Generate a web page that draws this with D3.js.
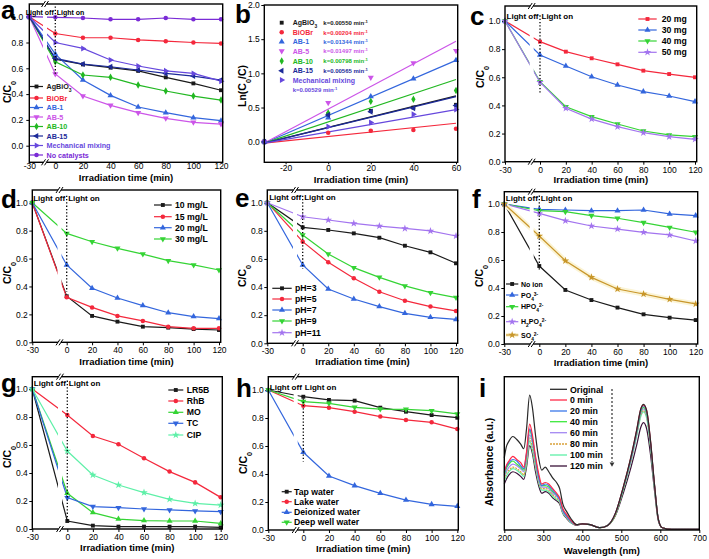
<!DOCTYPE html>
<html>
<head>
<meta charset="utf-8">
<script src="https://cdn.jsdelivr.net/npm/d3@7"></script>
<style>
  body { margin: 0; background: #fff; }
  svg { font-family: "Liberation Sans", Arial, sans-serif; }
</style>
</head>
<body>
<svg id="fig" width="709" height="559"></svg>
<script>
// ---------- data ----------
const times = [-30, 0, 20, 40, 60, 80, 100, 120];
const timeTicks = [-30, 0, 20, 40, 60, 80, 100, 120];
const ratioTicks = [0, 0.2, 0.4, 0.6, 0.8, 1.0];

// a: catalysts
const aNames = ['AgBiO_3', 'BiOBr', 'AB-1', 'AB-5', 'AB-10', 'AB-15', 'Mechanical mixing', 'No catalysts'];
const aAgBiO3 = [1.0, 0.67, 0.63, 0.605, 0.58, 0.53, 0.483, 0.43];
const aBiOBr = [1.0, 0.87, 0.837, 0.837, 0.82, 0.81, 0.80, 0.793];
const aAB1 = [1.0, 0.71, 0.51, 0.39, 0.30, 0.256, 0.217, 0.194];
const aAB5 = [1.0, 0.556, 0.385, 0.313, 0.256, 0.212, 0.181, 0.168];
const aAB10 = [1.0, 0.651, 0.548, 0.53, 0.47, 0.424, 0.385, 0.354];
const aAB15 = [1.0, 0.677, 0.633, 0.612, 0.587, 0.56, 0.54, 0.509];
const aMech = [1.0, 0.80, 0.754, 0.664, 0.618, 0.58, 0.56, 0.50];
const aNone = [1.0, 0.995, 0.99, 0.98, 0.98, 0.99, 0.98, 0.98];

// b: kinetics
const bTimes = [-30, 0, 20, 40, 60];
const bFitTimes = [-30, 60];
const bAgBiO3 = [0, 0.40, 0.45, 0.50, 0.54];
const bBiOBr = [0, 0.13, 0.16, 0.17, 0.19];
const bAB1 = [0, 0.35, 0.66, 0.92, 1.19];
const bAB5 = [0, 0.57, 0.94, 1.15, 1.33];
const bAB10 = [0, 0.42, 0.59, 0.62, 0.75];
const bAB15 = [0, 0.39, 0.44, 0.49, 0.53];
const bMech = [0, 0.22, 0.28, 0.40, 0.47];
const bFitAgBiO3 = [-0.02, 0.67];
const bFitBiOBr = [-0.02, 0.27];
const bFitAB1 = [-0.02, 1.19];
const bFitAB5 = [-0.02, 1.47];
const bFitAB10 = [-0.02, 0.91];
const bFitAB15 = [-0.02, 0.66];
const bFitMech = [-0.02, 0.47];
const bK = ['0.00550', '0.00204', '0.01344', '0.01497', '0.00798', '0.00565', '0.00529'];

// c: catalyst dosage
const cNames = ['20 mg', '30 mg', '40 mg', '50 mg'];
const c20 = [1.0, 0.853, 0.782, 0.735, 0.692, 0.647, 0.623, 0.60];
const c30 = [1.0, 0.758, 0.68, 0.604, 0.545, 0.498, 0.467, 0.427];
const c40 = [1.0, 0.569, 0.391, 0.32, 0.268, 0.218, 0.19, 0.178];
const c50 = [1.0, 0.565, 0.38, 0.303, 0.249, 0.206, 0.178, 0.159];

// d: initial concentration
const dNames = ['10 mg/L', '15 mg/L', '20 mg/L', '30 mg/L'];
const d10 = [1.0, 0.33, 0.189, 0.148, 0.112, 0.105, 0.095, 0.088];
const d15 = [1.0, 0.322, 0.25, 0.189, 0.153, 0.112, 0.10, 0.10];
const d20 = [1.0, 0.554, 0.387, 0.317, 0.263, 0.212, 0.184, 0.17];
const d30 = [1.0, 0.78, 0.72, 0.673, 0.632, 0.585, 0.554, 0.518];

// e: pH
const eNames = ['pH=3', 'pH=5', 'pH=7', 'pH=9', 'pH=11'];
const ePH3 = [1.0, 0.825, 0.806, 0.782, 0.751, 0.694, 0.647, 0.569];
const ePH5 = [1.0, 0.723, 0.576, 0.462, 0.367, 0.303, 0.261, 0.23];
const ePH7 = [1.0, 0.557, 0.386, 0.315, 0.261, 0.213, 0.185, 0.17];
const ePH9 = [1.0, 0.77, 0.635, 0.538, 0.469, 0.408, 0.36, 0.325];
const ePH11 = [1.0, 0.90, 0.877, 0.853, 0.834, 0.817, 0.799, 0.763];

// f: coexisting ions
const fNames = ['No ion', 'PO_4^3-', 'HPO_4^2-', 'H_2PO_4^2-', 'SO_4^2-'];
const fNoIon = [1.0, 0.557, 0.386, 0.314, 0.26, 0.212, 0.188, 0.171];
const fPO4 = [1.0, 0.962, 0.957, 0.952, 0.952, 0.957, 0.929, 0.917];
const fHPO4 = [1.0, 0.952, 0.945, 0.917, 0.898, 0.867, 0.833, 0.798];
const fH2PO4 = [1.0, 0.933, 0.881, 0.843, 0.821, 0.798, 0.779, 0.736];
const fSO4 = [1.0, 0.771, 0.595, 0.476, 0.393, 0.357, 0.319, 0.286];

// g: pollutants
const gNames = ['LR5B', 'RhB', 'MO', 'TC', 'CIP'];
const gLR5B = [1.0, 0.057, 0.024, 0.017, 0.017, 0.017, 0.017, 0.012];
const gRhB = [1.0, 0.814, 0.664, 0.605, 0.505, 0.41, 0.333, 0.226];
const gMO = [1.0, 0.255, 0.117, 0.071, 0.06, 0.057, 0.057, 0.04];
const gTC = [1.0, 0.224, 0.16, 0.152, 0.143, 0.136, 0.129, 0.124];
const gCIP = [1.0, 0.557, 0.386, 0.314, 0.26, 0.212, 0.183, 0.171];

// h: water matrices
const hNames = ['Tap water', 'Lake water', 'Deionized water', 'Deep well water'];
const hTap = [1.0, 0.952, 0.929, 0.924, 0.874, 0.845, 0.821, 0.802];
const hLake = [1.0, 0.888, 0.874, 0.845, 0.81, 0.786, 0.769, 0.721];
const hDI = [1.0, 0.555, 0.386, 0.317, 0.262, 0.214, 0.183, 0.169];
const hDeep = [1.0, 0.917, 0.905, 0.876, 0.864, 0.862, 0.852, 0.829];

// i: UV-vis spectra
const iNames = ['Original', '0 min', '20 min', '40 min', '60 min', '80 min', '100 min', '120 min'];
const wavelengths = [200,205,212,222,232,242,250,257,265,272,280,288,296,305,314,324,334,342,350,360,372,385,400,420,445,465,485,505,525,540,550,557,565,575,585,595,605,630,700];
const iOriginal = [0.47,0.54,0.58,0.61,0.59,0.56,0.53,0.66,0.88,0.80,0.62,0.47,0.39,0.41,0.38,0.34,0.31,0.27,0.17,0.12,0.07,0.035,0.04,0.035,0.015,0.03,0.11,0.28,0.48,0.66,0.79,0.82,0.78,0.58,0.30,0.07,0.015,0.005,0.005];
const i0 = [0.38,0.42,0.45,0.48,0.46,0.44,0.41,0.51,0.69,0.62,0.48,0.37,0.30,0.31,0.30,0.27,0.24,0.21,0.14,0.10,0.06,0.035,0.04,0.035,0.015,0.03,0.11,0.28,0.48,0.66,0.79,0.815,0.78,0.58,0.30,0.07,0.015,0.005,0.005];
const i20 = [0.37,0.41,0.44,0.46,0.45,0.42,0.40,0.50,0.66,0.60,0.47,0.35,0.29,0.30,0.29,0.26,0.23,0.20,0.13,0.09,0.055,0.035,0.04,0.035,0.015,0.03,0.11,0.275,0.47,0.65,0.78,0.81,0.77,0.57,0.295,0.07,0.015,0.005,0.005];
const i40 = [0.36,0.40,0.43,0.45,0.43,0.41,0.39,0.49,0.65,0.59,0.46,0.35,0.29,0.29,0.28,0.25,0.23,0.20,0.13,0.09,0.055,0.035,0.04,0.035,0.015,0.03,0.105,0.27,0.47,0.64,0.77,0.80,0.76,0.565,0.29,0.07,0.015,0.005,0.005];
const i60 = [0.35,0.38,0.41,0.43,0.42,0.40,0.38,0.47,0.62,0.57,0.44,0.33,0.28,0.28,0.27,0.24,0.22,0.19,0.12,0.085,0.05,0.035,0.04,0.035,0.015,0.03,0.105,0.27,0.46,0.63,0.76,0.79,0.75,0.56,0.29,0.07,0.015,0.005,0.005];
const i80 = [0.33,0.37,0.39,0.41,0.40,0.38,0.36,0.45,0.60,0.54,0.42,0.32,0.27,0.27,0.26,0.23,0.21,0.18,0.12,0.08,0.05,0.035,0.04,0.035,0.015,0.03,0.10,0.265,0.455,0.63,0.75,0.78,0.74,0.55,0.285,0.065,0.015,0.005,0.005];
const i100 = [0.32,0.35,0.38,0.40,0.39,0.37,0.35,0.43,0.58,0.52,0.41,0.31,0.26,0.26,0.25,0.22,0.20,0.18,0.11,0.08,0.045,0.035,0.04,0.035,0.015,0.03,0.10,0.26,0.45,0.62,0.74,0.77,0.73,0.54,0.28,0.065,0.015,0.005,0.005];
const i120 = [0.30,0.33,0.36,0.38,0.37,0.35,0.33,0.41,0.55,0.50,0.38,0.29,0.24,0.25,0.24,0.21,0.19,0.17,0.11,0.075,0.045,0.03,0.04,0.035,0.015,0.03,0.095,0.24,0.41,0.56,0.67,0.70,0.66,0.49,0.26,0.06,0.015,0.005,0.005];
const wlTicks = [200, 300, 400, 500, 600, 700];

// ---------- helpers ----------
const svg = d3.select('#fig');
const C = {
  black: '#1a1a1a', red: '#f4283c', blue: '#3366dd', green: '#35d435', violet: '#a374ef',
  magenta: '#cc55e8', green2: '#22b822', navy: '#1c2a99', mech: '#6648dd', purple: '#7a2bd6',
  gold: '#c8962a', aqua: '#5ef0a8', orange: '#d9a13a', dark: '#3a1238'
};

const symPaths = {
  square: d3.symbol(d3.symbolSquare, 15)(),
  circle: d3.symbol(d3.symbolCircle, 16)(),
  up: d3.symbol(d3.symbolTriangle, 16)(),
  down: d3.symbol(d3.symbolTriangle, 16)(),
  left: d3.symbol(d3.symbolTriangle, 16)(),
  right: d3.symbol(d3.symbolTriangle, 16)(),
  diamond: d3.symbol(d3.symbolDiamond, 16)(),
  star: d3.symbol(d3.symbolStar, 18)(),
  star5: d3.symbol(d3.symbolStar, 18)()
};
const symRot = {down: 180, left: -90, right: 90};

function marker(g, type, cx, cy, color) {
  g.append('path')
    .attr('d', symPaths[type])
    .attr('transform', `translate(${cx},${cy}) rotate(${symRot[type] || 0})`)
    .attr('fill', color);
}

// text with _sub and ^super pieces
function rich(sel, str) {
  str.split(/(_\d+|\^[\d+\-]+)/).filter(s => s.length).forEach(s => {
    const t = sel.append('tspan');
    if (s[0] === '_') t.attr('baseline-shift', 'sub').style('font-size', '0.7em').text(s.slice(1));
    else if (s[0] === '^') t.attr('baseline-shift', 'super').style('font-size', '0.7em').text(s.slice(1));
    else t.text(s);
  });
  return sel;
}

function styleAxis(ax, fs) {
  ax.select('.domain').remove();
  ax.attr('font-family', null).attr('font-size', null);
  ax.selectAll('text').attr('font-size', fs).attr('fill', '#000');
  ax.selectAll('line').attr('stroke', '#000').attr('stroke-width', 1);
}

function panelLetter(x, y, letter) {
  svg.append('text').attr('x', x).attr('y', y)
    .attr('font-size', 26).attr('font-weight', 'bold').text(letter);
}

function yTitle(x, y, str) {
  rich(svg.append('text')
    .attr('transform', `translate(${x},${y}) rotate(-90)`)
    .attr('text-anchor', 'middle')
    .attr('font-size', 10.5).attr('font-weight', 'bold'), str);
}

function xTitle(x, y, str) {
  svg.append('text').attr('x', x).attr('y', y)
    .attr('text-anchor', 'middle').attr('font-size', 9.5).attr('font-weight', 'bold').text(str);
}

// ---------- time-course panels (a, c-h) ----------
function timePanel(p) {
  const x = d3.scaleLinear().domain([-30, 0, 120]).range([p.xm30, p.x0, p.x120]);
  const y = d3.scaleLinear().domain([0, 1]).range([p.y0, p.y1]);
  const g = svg.append('g');

  const xa = g.append('g').attr('transform', `translate(0,${p.bottom})`)
    .call(d3.axisBottom(x).tickValues(timeTicks).tickSize(p.tickLen).tickPadding(p.tickPad).tickFormat(d => String(d)));
  styleAxis(xa, 8.5);
  const ya = g.append('g').attr('transform', `translate(${p.xm30},0)`)
    .call(d3.axisLeft(y).tickValues(ratioTicks).tickSize(3).tickPadding(p.yPad || 1.5).tickFormat(d3.format('.1f')));
  styleAxis(ya, 8.5);

  const line = d3.line().x((d, i) => x(times[i])).y(d => y(d));
  p.series.forEach(s => {
    if (s.glow) {
      g.append('path').attr('d', line(s.values)).attr('fill', 'none')
        .attr('stroke', '#fbf4d6').attr('stroke-width', 5).attr('stroke-linejoin', 'round');
    }
    g.append('path').attr('d', line(s.values)).attr('fill', 'none')
      .attr('stroke', s.color).attr('stroke-width', 1.2);
  });

  // axis break gap through the curves
  g.append('rect').attr('x', p.brk - 2).attr('y', p.top + 1)
    .attr('width', 4).attr('height', p.bottom - p.top - 2).attr('fill', '#fff');

  p.series.forEach(s => {
    s.values.forEach((v, i) => marker(g, s.sym, x(times[i]), y(v), s.color));
  });

  g.append('rect').attr('x', p.xm30).attr('y', p.top)
    .attr('width', p.right - p.xm30).attr('height', p.bottom - p.top)
    .attr('fill', 'none').attr('stroke', '#000').attr('stroke-width', 1.4);

  // break marks on top and bottom frame
  [p.top, p.bottom].forEach(yy => {
    g.append('rect').attr('x', p.brk - 1.5).attr('y', yy - 1).attr('width', 3).attr('height', 2).attr('fill', '#fff');
    [-1.5, 1.5].forEach(dx => {
      g.append('line')
        .attr('x1', p.brk + dx - 2).attr('y1', yy + 3)
        .attr('x2', p.brk + dx + 2).attr('y2', yy - 3)
        .attr('stroke', '#000').attr('stroke-width', 1);
    });
  });

  // light off / on marker
  g.append('line').attr('x1', x(0)).attr('x2', x(0))
    .attr('y1', y(p.dot[0])).attr('y2', y(p.dot[1]))
    .attr('stroke', '#000').attr('stroke-width', 1.3).attr('stroke-dasharray', '1.3,2');
  g.append('text').attr('x', x(0) - 1.5).attr('y', p.lightY).attr('text-anchor', 'end')
    .attr('font-size', p.lightFs).attr('font-weight', 'bold').text('Light off');
  g.append('text').attr('x', x(0) + 1.5).attr('y', p.lightY)
    .attr('font-size', p.lightFs).attr('font-weight', 'bold').text('Light on');

  // legend
  const L = p.legend;
  p.series.forEach((s, i) => {
    const ly = L.rows[i];
    if (s.glow) {
      g.append('line').attr('x1', L.x1).attr('x2', L.x2).attr('y1', ly).attr('y2', ly)
        .attr('stroke', '#fbf4d6').attr('stroke-width', 4);
    }
    g.append('line').attr('x1', L.x1).attr('x2', L.x2).attr('y1', ly).attr('y2', ly)
      .attr('stroke', s.color).attr('stroke-width', 1.2);
    marker(g, s.sym, (L.x1 + L.x2) / 2, ly, s.color);
    rich(g.append('text').attr('x', L.tx).attr('y', ly + L.fs * 0.36)
      .attr('font-size', L.fs).attr('font-weight', 'bold')
      .attr('fill', L.colored ? s.color : '#000'), s.name);
  });

  xTitle((p.xm30 + p.right) / 2, p.bottom + p.titleDy, 'Irradiation time (min)');
  yTitle(p.yTitleX, p.yTitleY, 'C/C_0');
}

// ---------- a ----------
timePanel({
  xm30: 29.3, x0: 55.3, x120: 221, right: 222.7, top: 4, bottom: 162.3, y0: 145.7, y1: 16.7,
  brk: 45, tickLen: 0, tickPad: 1, yPad: 3, titleDy: 18.5, yTitleX: 11, yTitleY: 92,
  dot: [1.08, 0.55], lightY: 15, lightFs: 7,
  legend: {x1: 30, x2: 43, tx: 46.5, fs: 7.2, colored: true, rows: [86.5, 98, 107.5, 117, 126.5, 136, 145.5, 155]},
  series: [
    {name: aNames[0], values: aAgBiO3, color: C.black, sym: 'square'},
    {name: aNames[1], values: aBiOBr, color: C.red, sym: 'circle'},
    {name: aNames[2], values: aAB1, color: C.blue, sym: 'up'},
    {name: aNames[3], values: aAB5, color: C.magenta, sym: 'down'},
    {name: aNames[4], values: aAB10, color: C.green2, sym: 'diamond'},
    {name: aNames[5], values: aAB15, color: C.navy, sym: 'left'},
    {name: aNames[6], values: aMech, color: C.mech, sym: 'right'},
    {name: aNames[7], values: aNone, color: C.purple, sym: 'circle'}
  ]
});
panelLetter(1, 19, 'a');

// ---------- b ----------
(function () {
  const p = {left: 264.3, right: 457.7, top: 5, bottom: 162.3};
  const x = d3.scaleLinear().domain([-30, 60]).range([264.3, 456]);
  const y = d3.scaleLinear().domain([0, 2]).range([141.7, 5]);
  const g = svg.append('g');
  const xa = g.append('g').attr('transform', `translate(0,${p.bottom})`)
    .call(d3.axisBottom(x).tickValues([-20, 0, 20, 40, 60]).tickSize(2).tickPadding(0.5).tickFormat(d => String(d)));
  styleAxis(xa, 8.5);
  const ya = g.append('g').attr('transform', `translate(${p.left},0)`)
    .call(d3.axisLeft(y).tickValues([0, 0.5, 1.0, 1.5, 2.0]).tickSize(3).tickPadding(1.5).tickFormat(d3.format('.1f')));
  styleAxis(ya, 8.5);

  const series = [
    {name: aNames[0], pts: bAgBiO3, fit: bFitAgBiO3, color: C.black, sym: 'square'},
    {name: aNames[1], pts: bBiOBr, fit: bFitBiOBr, color: C.red, sym: 'circle'},
    {name: aNames[2], pts: bAB1, fit: bFitAB1, color: C.blue, sym: 'up'},
    {name: aNames[3], pts: bAB5, fit: bFitAB5, color: C.magenta, sym: 'down'},
    {name: aNames[4], pts: bAB10, fit: bFitAB10, color: C.green2, sym: 'diamond'},
    {name: aNames[5], pts: bAB15, fit: bFitAB15, color: C.navy, sym: 'left'},
    {name: aNames[6], pts: bMech, fit: bFitMech, color: C.mech, sym: 'right'}
  ];
  const fitLine = d3.line().x((d, i) => x(bFitTimes[i])).y(d => y(d));
  series.forEach(s => {
    g.append('path').attr('d', fitLine(s.fit)).attr('fill', 'none')
      .attr('stroke', s.color).attr('stroke-width', 1.2);
  });
  series.forEach(s => s.pts.forEach((v, i) => marker(g, s.sym, x(bTimes[i]), y(v), s.color)));

  g.append('rect').attr('x', p.left).attr('y', p.top)
    .attr('width', p.right - p.left).attr('height', p.bottom - p.top)
    .attr('fill', 'none').attr('stroke', '#000').attr('stroke-width', 1.4);

  const rows = [22.7, 32.3, 41.7, 51, 61, 70.7, 80];
  series.forEach((s, i) => {
    marker(g, s.sym, 281.7, rows[i], s.color);
    rich(g.append('text').attr('x', 292.7).attr('y', rows[i] + 2.5)
      .attr('font-size', 7).attr('font-weight', 'bold').attr('fill', s.color), s.name);
    const kx = i === 6 ? 292.7 : 323.3;
    const ky = i === 6 ? 89.3 : rows[i];
    rich(g.append('text').attr('x', kx).attr('y', ky + 2.2)
      .attr('font-size', 6).attr('font-weight', 'bold').attr('fill', s.color), 'k=' + bK[i] + ' min^-1');
  });

  xTitle((p.left + p.right) / 2, 182.5, 'Irradiation time (min)');
  yTitle(246, 86, 'Ln(C_0/C)');
})();
panelLetter(235, 23, 'b');

// ---------- c ----------
timePanel({
  xm30: 505, x0: 540, x120: 695, right: 696.7, top: 6, bottom: 161.7, y0: 161.7, y1: 21,
  brk: 531.7, tickLen: 3, tickPad: 2, titleDy: 21.5, yTitleX: 484, yTitleY: 77,
  dot: [1.04, 0.49], lightY: 19, lightFs: 8,
  legend: {x1: 638.3, x2: 656.7, tx: 661.7, fs: 8.7, colored: false, rows: [19, 30, 41, 52.3]},
  series: [
    {name: cNames[0], values: c20, color: C.red, sym: 'square'},
    {name: cNames[1], values: c30, color: C.blue, sym: 'up'},
    {name: cNames[2], values: c40, color: C.green, sym: 'down'},
    {name: cNames[3], values: c50, color: C.violet, sym: 'star'}
  ]
});
panelLetter(470, 25, 'c');

// ---------- d ----------
timePanel({
  xm30: 32.3, x0: 66.7, x120: 219, right: 220.7, top: 190, bottom: 342.3, y0: 342.3, y1: 202.7,
  brk: 59.5, tickLen: 3, tickPad: 2, titleDy: 22.5, yTitleX: 11, yTitleY: 273,
  dot: [1.05, 0.36], lightY: 201, lightFs: 8,
  legend: {x1: 154, x2: 171.7, tx: 175, fs: 8.7, colored: false, rows: [205, 216.7, 227.7, 239]},
  series: [
    {name: dNames[0], values: d10, color: C.black, sym: 'square'},
    {name: dNames[1], values: d15, color: C.red, sym: 'circle'},
    {name: dNames[2], values: d20, color: C.blue, sym: 'up'},
    {name: dNames[3], values: d30, color: C.green, sym: 'down'}
  ]
});
panelLetter(1, 208, 'd');

// ---------- e ----------
timePanel({
  xm30: 267.3, x0: 302.7, x120: 456, right: 457.7, top: 190, bottom: 343.3, y0: 343.3, y1: 202.7,
  brk: 295, tickLen: 3, tickPad: 2, titleDy: 22, yTitleX: 246, yTitleY: 276,
  dot: [1.05, 0.53], lightY: 199.5, lightFs: 8,
  legend: {x1: 272.3, x2: 291.7, tx: 295, fs: 8.7, colored: false, rows: [288.3, 299, 310, 321, 332.7]},
  series: [
    {name: eNames[0], values: ePH3, color: C.black, sym: 'square'},
    {name: eNames[1], values: ePH5, color: C.red, sym: 'circle'},
    {name: eNames[2], values: ePH7, color: C.blue, sym: 'up'},
    {name: eNames[3], values: ePH9, color: C.green, sym: 'down'},
    {name: eNames[4], values: ePH11, color: C.violet, sym: 'star'}
  ]
});
panelLetter(235, 206.5, 'e');

// ---------- f ----------
timePanel({
  xm30: 504.3, x0: 539.3, x120: 695.7, right: 697.7, top: 191.7, bottom: 344, y0: 344, y1: 204,
  brk: 531.7, tickLen: 3, tickPad: 2, titleDy: 22, yTitleX: 483, yTitleY: 276,
  dot: [1.06, 0.53], lightY: 201, lightFs: 8,
  legend: {x1: 506, x2: 518.3, tx: 521, fs: 7, colored: false, rows: [284, 295, 306.7, 321.7, 335]},
  series: [
    {name: fNames[0], values: fNoIon, color: C.black, sym: 'square'},
    {name: fNames[1], values: fPO4, color: C.blue, sym: 'up'},
    {name: fNames[2], values: fHPO4, color: C.green, sym: 'down'},
    {name: fNames[3], values: fH2PO4, color: C.violet, sym: 'star'},
    {name: fNames[4], values: fSO4, color: C.gold, sym: 'star5', glow: true}
  ]
});
panelLetter(472, 208, 'f');

// ---------- g ----------
timePanel({
  xm30: 32.3, x0: 67.3, x120: 220.7, right: 222.3, top: 376.7, bottom: 529, y0: 529, y1: 389,
  brk: 60, tickLen: 3, tickPad: 2, titleDy: 22, yTitleX: 11, yTitleY: 457,
  dot: [1.06, 0.05], lightY: 386, lightFs: 8,
  legend: {x1: 168.3, x2: 183.3, tx: 186.7, fs: 8.7, colored: false, rows: [390, 401, 412.3, 423.3, 435]},
  series: [
    {name: gNames[0], values: gLR5B, color: C.black, sym: 'square'},
    {name: gNames[1], values: gRhB, color: C.red, sym: 'circle'},
    {name: gNames[2], values: gMO, color: C.green, sym: 'up'},
    {name: gNames[3], values: gTC, color: C.blue, sym: 'down'},
    {name: gNames[4], values: gCIP, color: C.aqua, sym: 'star'}
  ]
});
panelLetter(1, 392, 'g');

// ---------- h ----------
timePanel({
  xm30: 268.3, x0: 303.3, x120: 457.3, right: 458.3, top: 376.7, bottom: 530, y0: 530, y1: 390,
  brk: 295.7, tickLen: 3, tickPad: 2, titleDy: 21.5, yTitleX: 247, yTitleY: 463,
  dot: [0.94, 0.49], lightY: 389.5, lightFs: 8,
  legend: {x1: 281.7, x2: 291.7, tx: 294, fs: 8.7, colored: false, rows: [491.7, 501.7, 512.3, 522.3]},
  series: [
    {name: hNames[0], values: hTap, color: C.black, sym: 'square'},
    {name: hNames[1], values: hLake, color: C.red, sym: 'circle'},
    {name: hNames[2], values: hDI, color: C.blue, sym: 'up'},
    {name: hNames[3], values: hDeep, color: C.green, sym: 'down'}
  ]
});
panelLetter(236, 396.7, 'h');

// ---------- i ----------
(function () {
  const p = {left: 504.3, right: 699.3, top: 376.7, bottom: 530};
  const x = d3.scaleLinear().domain([200, 700]).range([p.left, p.right]);
  const y = d3.scaleLinear().domain([0, 1]).range([p.bottom, p.top]);
  const g = svg.append('g');
  const xa = g.append('g').attr('transform', `translate(0,${p.bottom})`)
    .call(d3.axisBottom(x).tickValues(wlTicks).tickSize(3).tickPadding(2));
  styleAxis(xa, 8.5);

  const series = [
    {name: iNames[0], values: iOriginal, color: '#2a2a2a'},
    {name: iNames[1], values: i0, color: '#ff2a48'},
    {name: iNames[2], values: i20, color: '#3a78ea'},
    {name: iNames[3], values: i40, color: '#3ee83e'},
    {name: iNames[4], values: i60, color: '#a488f2'},
    {name: iNames[5], values: i80, color: '#d9a13a', dash: '2,1'},
    {name: iNames[6], values: i100, color: '#5ef0a8'},
    {name: iNames[7], values: i120, color: '#3a1238'}
  ];
  const line = d3.line().x((d, i) => x(wavelengths[i])).y(d => y(d)).curve(d3.curveMonotoneX);
  series.slice().reverse().forEach(s => {
    g.append('path').attr('d', line(s.values)).attr('fill', 'none')
      .attr('stroke', s.color).attr('stroke-width', 1.2)
      .attr('stroke-dasharray', s.dash || null);
  });

  g.append('rect').attr('x', p.left).attr('y', p.top)
    .attr('width', p.right - p.left).attr('height', p.bottom - p.top)
    .attr('fill', 'none').attr('stroke', '#000').attr('stroke-width', 1.4);

  const rows = [389.3, 400, 411, 421.7, 432.7, 444, 455, 466];
  series.forEach((s, i) => {
    g.append('line').attr('x1', 550).attr('x2', 567).attr('y1', rows[i]).attr('y2', rows[i])
      .attr('stroke', s.color).attr('stroke-width', 1.3).attr('stroke-dasharray', s.dash || null);
    g.append('text').attr('x', 570).attr('y', rows[i] + 3.2)
      .attr('font-size', 8.8).attr('font-weight', 'bold').text(s.name);
  });

  // dashed arrow showing decrease with time
  g.append('line').attr('x1', 612).attr('x2', 612).attr('y1', 389).attr('y2', 462)
    .attr('stroke', '#333').attr('stroke-width', 1.2).attr('stroke-dasharray', '2,2');
  g.append('path').attr('d', d3.symbol(d3.symbolTriangle, 10)())
    .attr('transform', 'translate(612,464) rotate(180)').attr('fill', '#333');

  xTitle((p.left + p.right) / 2, 553.5, 'Wavelength (nm)');
  yTitle(493, 462, 'Absorbance (a.u.)');
})();
panelLetter(479, 396.7, 'i');
</script>
</body>
</html>
